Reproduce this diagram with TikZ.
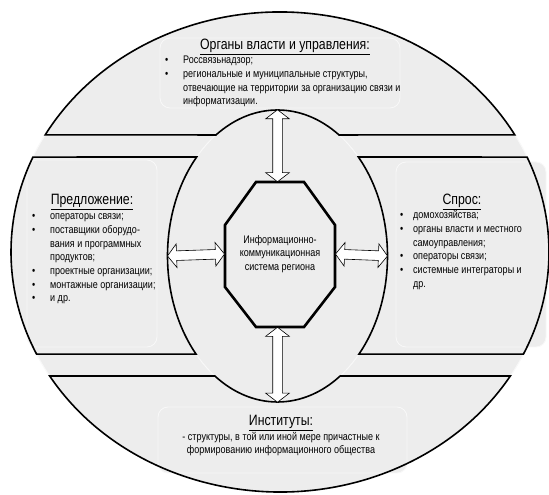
\documentclass[tikz,border=0pt]{standalone}
\usepackage{fontspec}
\setmainfont{Liberation Sans}[FakeStretch=0.82]
\usetikzlibrary{shapes.geometric,shapes.arrows,calc}
\definecolor{ringgray}{HTML}{EDEDED}
\definecolor{rimgray}{HTML}{F8F8F8}
\newcommand{\opt}[1]{({280+269*cos(#1)},{243+240*sin(#1)})}
\newcommand{\ipt}[1]{({277.5+110*cos(#1)},{239+146*sin(#1)})}
\newcommand{\ringseg}[4]{\opt{#1} arc[start angle=#1, end angle=#2, x radius=269pt, y radius=240pt]
  -- \ipt{#3} arc[start angle=#3, end angle=#4, x radius=110pt, y radius=146pt] -- cycle}
\tikzset{
  segline/.style={draw=black, line width=1.6pt, line join=miter},
  panel/.style={draw=rimgray, line width=0.8pt, fill=ringgray, rounded corners=10pt},
  octa/.style={draw=black, line width=2.6pt, fill=ringgray, line join=miter},
  blockarr/.style={double arrow, draw=black, fill=white, line width=0.6pt, inner xsep=0pt, inner ysep=4.5pt,
    double arrow head extend=7pt, double arrow tip angle=105},
  head/.style={font=\fontsize{15}{17}\selectfont, inner sep=0pt},
  body/.style={font=\fontsize{11}{13.7}\selectfont, inner sep=0pt}
}
\begin{document}
\begin{tikzpicture}[x=1pt,y=1pt]
\useasboundingbox (0,0) rectangle (549,495);
\fill[white] (0,0) rectangle (549,495);

\node[ellipse, draw=rimgray, line width=1pt, fill=ringgray, minimum width=538pt, minimum height=480pt, inner sep=0pt] (rim) at (280,243) {};
\node[ellipse, draw=rimgray, line width=1pt, minimum width=220pt, minimum height=292pt, inner sep=0pt] (core) at (277.5,239) {};

\node[panel, minimum width=240pt, minimum height=70pt] (govbox) at (280,422) {};
\node[panel, minimum width=130pt, minimum height=187pt] (supplybox) at (92,241.5) {};
\node[panel, minimum width=150pt, minimum height=185pt] (demandbox) at (471,240.5) {};
\node[panel, minimum width=249pt, minimum height=66pt] (instbox) at (282.5,55) {};

\foreach \a/\b/\c/\d in {29.2/150.8/124/56, 156.7/205.2/222.2/137.3, -25.2/23.3/42.7/-42.2, 211.1/328.9/304.7/235.3}
  \draw[segline] \ringseg{\a}{\b}{\c}{\d};

\draw[octa] (256,313) -- (304,313) -- (335,270) -- (335,208) -- (304,168) -- (256,168) -- (225,208) -- (225,270) -- cycle;
\coordinate (octN) at (277.5,313);
\coordinate (octS) at (277.5,168);
\coordinate (octW) at (225,241);
\coordinate (octE) at (335,241);
\node[body, align=center] (ics) at (280,241) {Информационно-\\коммуникационная\\система региона};

\path (octN) -- (core.north) node[midway, sloped, blockarr, minimum height=72pt] (arrgov) {};
\path (octS) -- (core.south) node[midway, sloped, blockarr, minimum height=75pt] (arrinst) {};
\path (core.west) -- (octW) node[midway, sloped, blockarr, minimum height=57pt] (arrsupply) {};
\path (octE) -- (core.east) node[midway, sloped, blockarr, minimum height=52pt] (arrdemand) {};

\node[head] (govhead) at (285,448) {\underline{Органы власти и управления:}};
\node[body, anchor=north west] (govlist) at (165,441) {\begin{tabular}{@{}p{18pt}@{}l@{}}
\textbullet & Россвязьнадзор;\\
\textbullet & региональные и муниципальные структуры,\\
 & отвечающие на территории за организацию связи и\\
 & информатизации.
\end{tabular}};

\node[head] (supplyhead) at (92,293) {\underline{Предложение:}};
\node[body, anchor=north west] (supplylist) at (32,285) {\begin{tabular}{@{}p{18pt}@{}l@{}}
\textbullet & операторы связи;\\
\textbullet & поставщики оборудо-\\
 & вания и программных\\
 & продуктов;\\
\textbullet & проектные организации;\\
\textbullet & монтажные организации;\\
\textbullet & и др.
\end{tabular}};

\node[head] (demandhead) at (462,293) {\underline{Спрос:}};
\node[body, anchor=north west] (demandlist) at (400,286) {\begin{tabular}{@{}p{13pt}@{}l@{}}
\textbullet & домохозяйства;\\
\textbullet & органы власти и местного\\
 & самоуправления;\\
\textbullet & операторы связи;\\
\textbullet & системные интеграторы и\\
 & др.
\end{tabular}};

\node[head] (insthead) at (281,72) {\underline{Институты:}};
\node[body, align=center] (instlist) at (281,51) {- структуры, в той или иной мере причастные к\\формированию информационного общества};
\end{tikzpicture}
\end{document}
